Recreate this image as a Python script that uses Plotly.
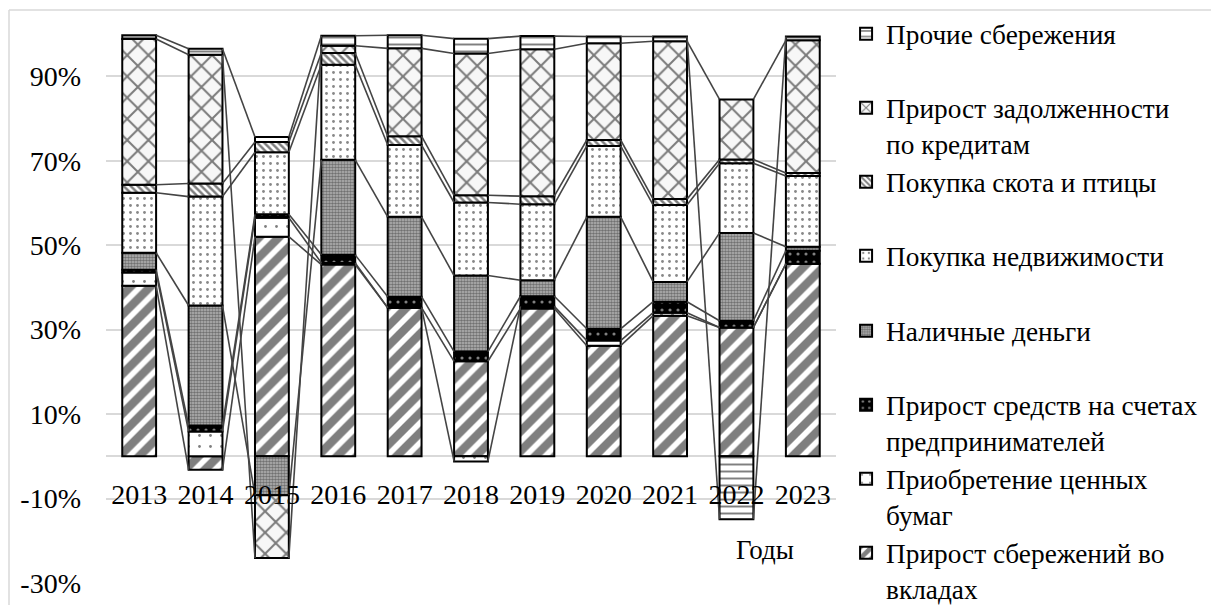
import plotly.graph_objects as go

# Structure of household savings use, % of total
years = ["2013", "2014", "2015", "2016", "2017", "2018", "2019", "2020", "2021", "2022", "2023"]

deposits = [40.4, -3.2, 52.0, 45.4, 35.2, 22.5, 35.0, 26.2, 33.3, 30.5, 45.6]
securities = [3.1, 5.9, 4.5, 0.4, 0.0, -1.2, 0.5, 1.2, 0.7, 0.0, 0.0]
entrepreneurs = [0.7, 1.4, 0.8, 1.9, 2.6, 2.3, 2.4, 2.8, 2.6, 1.6, 3.1]
cash = [4.0, 28.4, -9.2, 22.5, 18.9, 18.0, 3.8, 26.5, 4.7, 20.8, 0.9]
realty = [14.2, 25.8, 14.7, 22.5, 17.0, 17.3, 18.0, 16.8, 18.2, 16.5, 16.8]
livestock = [1.9, 3.1, 2.4, 2.8, 2.1, 1.7, 1.9, 1.4, 1.4, 0.9, 0.7]
loans = [34.5, 30.5, -14.9, 1.7, 20.8, 33.6, 34.8, 22.9, 37.4, 14.2, 31.4]
other = [0.9, 1.4, 1.2, 2.4, 3.1, 3.5, 3.1, 1.6, 1.1, -14.9, 0.9]

y_ticks = [-30, -10, 10, 30, 50, 70, 90]
y_tick_text = ["-30%", "-10%", "10%", "30%", "50%", "70%", "90%"]

names = [
    "Прирост сбережений во<br>вкладах",
    "Приобретение ценных<br>бумаг",
    "Прирост средств на счетах<br>предпринимателей",
    "Наличные деньги",
    "Покупка недвижимости",
    "Покупка скота и птицы",
    "Прирост задолженности<br>по кредитам",
    "Прочие сбережения",
]
series = [deposits, securities, entrepreneurs, cash, realty, livestock, loans, other]
# lower four entries go to the second legend block
legend_ids = ["legend2"] * 4 + ["legend"] * 4

patterns = [
    dict(shape="/", size=14, solidity=0.6, fgcolor="#000000", bgcolor="#ffffff"),
    dict(shape=".", size=11, solidity=0.05, fgcolor="#000000", bgcolor="#ffffff"),
    dict(shape=".", size=8, solidity=0.12, fgcolor="#ffffff", bgcolor="#000000"),
    dict(shape=".", size=3, solidity=0.6, fgcolor="#2a2a2a", bgcolor="#b8b8b8"),
    dict(shape=".", size=7, solidity=0.13, fgcolor="#111111", bgcolor="#ffffff"),
    dict(shape="\\", size=5, solidity=0.5, fgcolor="#000000", bgcolor="#ffffff"),
    dict(shape="x", size=15, solidity=0.25, fgcolor="#000000", bgcolor="#f7f7f7"),
    dict(shape="-", size=7, solidity=0.28, fgcolor="#000000", bgcolor="#ffffff"),
]

FONT = "Liberation Serif, Times New Roman, serif"
x = list(range(len(years)))
bar_w = 0.51

fig = go.Figure()

# Series lines: join the end of each segment in adjacent bars
pos_cum = [0.0] * len(years)
neg_cum = [0.0] * len(years)
ends = []
for vals in series:
    e = []
    for i, v in enumerate(vals):
        if v >= 0:
            pos_cum[i] += v
            e.append(pos_cum[i])
        else:
            neg_cum[i] += v
            e.append(neg_cum[i])
    ends.append(e)

for e in ends:
    lx, ly = [], []
    for i in range(len(years) - 1):
        lx += [x[i] + bar_w / 2, x[i + 1] - bar_w / 2, None]
        ly += [e[i], e[i + 1], None]
    fig.add_trace(go.Scatter(x=lx, y=ly, mode="lines", showlegend=False,
                             hoverinfo="skip",
                             line=dict(color="#444444", width=1.6)))

for name, vals, pat, lg in zip(names, series, patterns, legend_ids):
    label = name if "<br>" in name else name + "<br>\u00a0"
    fig.add_trace(go.Bar(
        x=x, y=vals, name=label, width=bar_w, legend=lg,
        marker=dict(color=pat["bgcolor"], pattern=pat,
                    line=dict(color="#000000", width=2)),
    ))

legend_style = dict(
    traceorder="reversed", valign="top", xanchor="left", yanchor="top",
    maxheight=800,
    font=dict(family=FONT, size=27.3, color="#000000"),
    bgcolor="rgba(0,0,0,0)", borderwidth=0, tracegroupgap=0,
)

fig.update_layout(
    width=1211, height=605,
    barmode="relative",
    plot_bgcolor="#ffffff", paper_bgcolor="#ffffff",
    margin=dict(l=106, r=375, t=34, b=22, autoexpand=False),
    font=dict(family=FONT, size=28, color="#000000"),
    showlegend=True,
    legend=dict(x=1.0138, y=(583 - 9.5) / 549, **legend_style),
    legend2=dict(x=1.0138, y=(583 - 306.5) / 549, **legend_style),
    xaxis=dict(
        range=[-0.5, len(years) - 0.5],
        tickvals=x, ticktext=years,
        anchor="free", position=30 / 130,
        showgrid=False, showline=False, zeroline=False, ticks="",
        ticklabelstandoff=19,
        tickfont=dict(family=FONT, size=28, color="#000000"),
    ),
    yaxis=dict(
        range=[-30, 100], tickvals=y_ticks, ticktext=y_tick_text,
        showgrid=True, gridcolor="#d9d9d9", gridwidth=1.5,
        zeroline=True, zerolinecolor="#d9d9d9", zerolinewidth=1.5,
        showline=False, ticks="", ticklabelstandoff=24,
        tickfont=dict(family=FONT, size=28, color="#000000"),
    ),
    annotations=[dict(text="Годы", xref="paper", yref="paper",
                      x=(765 - 106) / 730, y=(583 - 550) / 549,
                      xanchor="center", yanchor="middle", showarrow=False,
                      font=dict(family=FONT, size=27, color="#000000"))],
    shapes=[
        dict(type="line", xref="paper", yref="paper",
             x0=(9 - 106) / 730, x1=1.7, y0=(583 - 10) / 549, y1=(583 - 10) / 549,
             line=dict(color="#d9d9d9", width=1.5)),
        dict(type="line", xref="paper", yref="paper",
             x0=(9 - 106) / 730, x1=(9 - 106) / 730, y0=(583 - 10) / 549, y1=-0.1,
             line=dict(color="#d9d9d9", width=1.5)),
    ],
)

fig.write_html("out.html")
